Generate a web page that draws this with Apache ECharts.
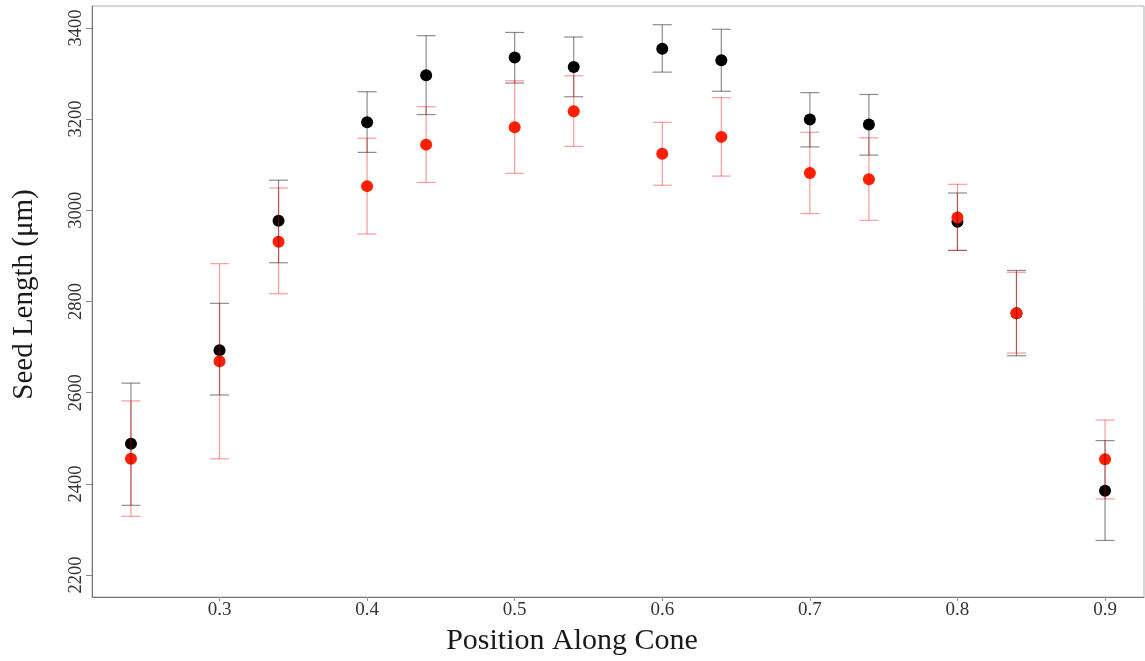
<!DOCTYPE html>
<html>
<head>
<meta charset="utf-8">
<script src="https://cdn.jsdelivr.net/npm/echarts@6/dist/echarts.min.js"></script>
<style>html,body{margin:0;padding:0;background:#fff}#c{width:1145px;height:661px}</style>
</head>
<body>
<div id="c"></div>
<script>
const positions = [0.24, 0.30, 0.34, 0.40, 0.44, 0.50, 0.54, 0.60, 0.64, 0.70, 0.74, 0.80, 0.84, 0.90];
const blackMean = [2488, 2693, 2977, 3193, 3296, 3335, 3314, 3354, 3329, 3199, 3188, 2975, 2774, 2385];
const blackLow  = [2353, 2595, 2885, 3127, 3210, 3279, 3249, 3303, 3261, 3139, 3121, 2912, 2681, 2276];
const blackHigh = [2621, 2796, 3066, 3260, 3383, 3390, 3380, 3407, 3397, 3258, 3254, 3038, 2868, 2495];
const redMean = [2455, 2669, 2931, 3053, 3144, 3182, 3217, 3124, 3161, 3082, 3068, 2984, 2774, 2454];
const redLow  = [2329, 2455, 2817, 2948, 3061, 3081, 3140, 3055, 3075, 2993, 2978, 2912, 2687, 2367];
const redHigh = [2582, 2883, 3049, 3158, 3227, 3284, 3295, 3193, 3247, 3171, 3159, 3057, 2864, 2540];
const xTicks = [0.3, 0.4, 0.5, 0.6, 0.7, 0.8, 0.9];
const yTicks = [2200, 2400, 2600, 2800, 3000, 3200, 3400];

const serif = '"Liberation Serif", "DejaVu Serif", serif';

function errData(lo, hi) {
  return positions.map((x, i) => [x, lo[i], hi[i]]);
}
function errRender(color) {
  return function (params, api) {
    const x = api.value(0);
    const lo = api.coord([x, api.value(1)]);
    const hi = api.coord([x, api.value(2)]);
    const w = 9.5;
    const style = { stroke: color, lineWidth: 1.2, fill: null };
    return {
      type: 'group',
      children: [
        { type: 'line', shape: { x1: lo[0], y1: lo[1], x2: hi[0], y2: hi[1] }, style },
        { type: 'line', shape: { x1: lo[0] - w, y1: lo[1], x2: lo[0] + w, y2: lo[1] }, style },
        { type: 'line', shape: { x1: hi[0] - w, y1: hi[1], x2: hi[0] + w, y2: hi[1] }, style }
      ]
    };
  };
}

const chart = echarts.init(document.getElementById('c'), null, { renderer: 'canvas' });
chart.setOption({
  animation: false,
  backgroundColor: '#fff',
  grid: { left: 92, right: 1, top: 6, bottom: 61, show: true, borderColor: '#b0b0b0', borderWidth: 1, containLabel: false },
  xAxis: {
    type: 'value', min: 0.2136, max: 0.9264,
    name: 'Position Along Cone', nameLocation: 'middle', nameGap: 29,
    nameTextStyle: { fontFamily: serif, fontSize: 30, color: '#1a1a1a', padding: [0, 92, 0, 0] },
    axisLine: { show: true, lineStyle: { color: '#777', width: 1 } },
    axisTick: { show: true, length: 4, lineStyle: { color: '#999' }, customValues: xTicks },
    axisLabel: { customValues: xTicks, formatter: v => v.toFixed(1), fontFamily: serif, fontSize: 19, color: '#333', margin: 4 },
    splitLine: { show: false }
  },
  yAxis: {
    type: 'value', min: 2152, max: 3448,
    name: 'Seed Length (μm)', nameLocation: 'middle', nameGap: 53, nameRotate: 90,
    nameTextStyle: { fontFamily: serif, fontSize: 29, color: '#1a1a1a', padding: [0, 0, 0, 14] },
    axisLine: { show: true, lineStyle: { color: '#777', width: 1 } },
    axisTick: { show: true, length: 6, lineStyle: { color: '#888' }, customValues: yTicks },
    axisLabel: { customValues: yTicks, formatter: v => String(v), rotate: 90, fontFamily: serif, fontSize: 18.5, color: '#333', margin: 6 },
    splitLine: { show: false }
  },
  series: [
    { type: 'scatter', data: positions.map((x, i) => [x, blackMean[i]]), symbol: 'circle', symbolSize: 12,
      itemStyle: { color: '#000', opacity: 1 }, z: 2 },
    { type: 'scatter', data: positions.map((x, i) => [x, redMean[i]]), symbol: 'circle', symbolSize: 12,
      itemStyle: { color: '#ff2000', opacity: 1 }, z: 2 },
    { type: 'custom', data: errData(blackLow, blackHigh), renderItem: errRender('rgba(0,0,0,0.45)'), z: 3 },
    { type: 'custom', data: errData(redLow, redHigh), renderItem: errRender('rgba(255,0,0,0.4)'), z: 3 }
  ]
});
</script>
</body>
</html>
